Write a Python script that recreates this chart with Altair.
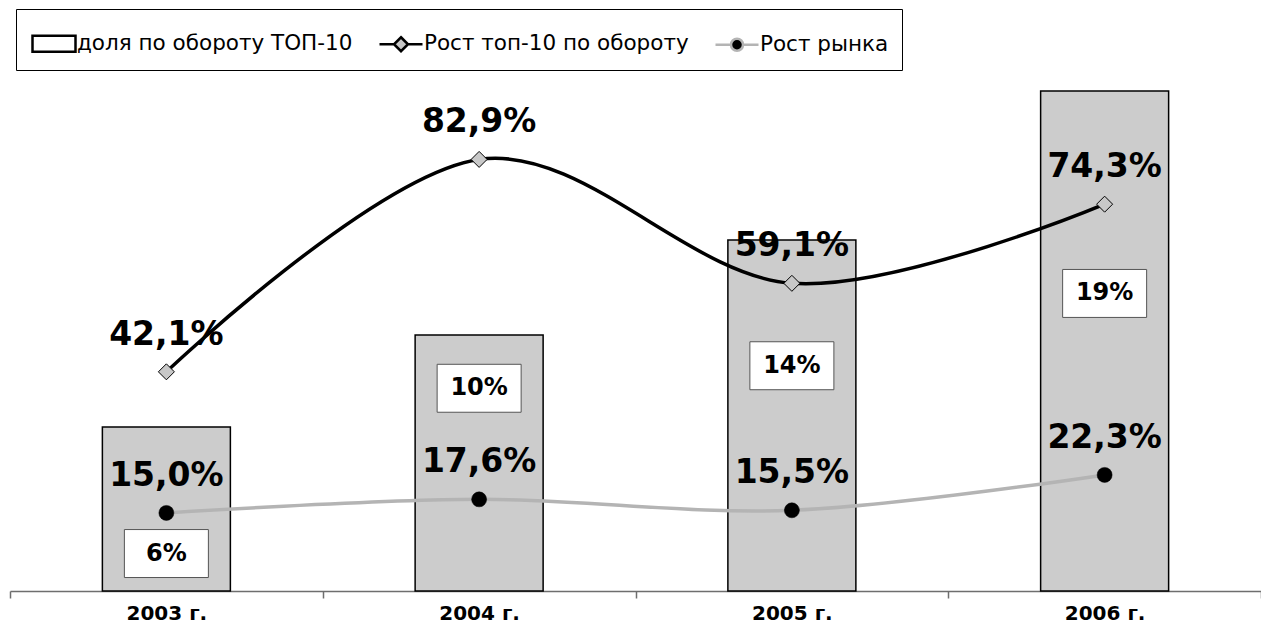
import altair as alt
import pandas as pd

years = ["2003 г.", "2004 г.", "2005 г.", "2006 г."]
share_top10 = [6.26, 9.77, 13.4, 19.09]          # доля по обороту ТОП-10 (bar height, %)
share_labels = ["6%", "10%", "14%", "19%"]
share_label_pos = [1.43, 7.74, 8.6, 11.36]       # label anchor, in share units
growth_top10 = [42.1, 82.9, 59.1, 74.3]          # Рост топ-10 по обороту
growth_market = [15.0, 17.6, 15.5, 22.3]         # Рост рынка
series_names = ["доля по обороту ТОП-10", "Рост топ-10 по обороту", "Рост рынка"]

FONT = "DejaVu Sans"

bars_df = pd.DataFrame({"year": years, "share": share_top10,
                        "label": share_labels, "pos": share_label_pos})
lines_df = pd.DataFrame({
    "year": years * 2,
    "value": growth_top10 + growth_market,
    "series": [series_names[1]] * 4 + [series_names[2]] * 4,
})
legend_df = pd.DataFrame({"series": series_names})

x_enc = alt.X("year:N", sort=years,
              scale=alt.Scale(paddingInner=0, paddingOuter=0),
              axis=alt.Axis(title=None, labelAngle=0, tickBand="extent", grid=False,
                            domainColor="#6e6e6e", tickColor="#6e6e6e",
                            domainWidth=1.5, tickWidth=1.5, tickSize=7,
                            labelFont=FONT, labelFontSize=20, labelFontWeight="bold",
                            labelColor="black", labelPadding=5))

share_scale = alt.Scale(domain=[0, 19.28], nice=False, zero=True)
growth_scale = alt.Scale(domain=[0, 97], nice=False, zero=True)

bars = alt.Chart(bars_df).mark_bar(size=128, fill="#cccccc", stroke="black",
                                   strokeWidth=1.5).encode(
    x=x_enc, y=alt.Y("share:Q", scale=share_scale, axis=None))

boxes = alt.Chart(bars_df).mark_point(
    shape="M-1,-0.571H1V0.571H-1Z", size=7056, filled=True, fill="white",
    stroke="#555555", strokeWidth=1, opacity=1).encode(
    x=x_enc, y=alt.Y("pos:Q", scale=share_scale, axis=None))

box_text = alt.Chart(bars_df).mark_text(
    font=FONT, fontSize=24, fontWeight="bold", color="black", baseline="middle").encode(
    x=x_enc, y=alt.Y("pos:Q", scale=share_scale, axis=None), text="label:N")

share_layer = alt.layer(bars, boxes, box_text)

top_df = lines_df[lines_df.series == series_names[1]]
mkt_df = lines_df[lines_df.series == series_names[2]]

y_g = alt.Y("value:Q", scale=growth_scale, axis=None)

line_top = alt.Chart(top_df).mark_line(
    interpolate="cardinal", color="black", strokeWidth=3.5).encode(x=x_enc, y=y_g)
pts_top = alt.Chart(top_df).mark_point(
    shape="diamond", size=256, filled=True, fill="#c8c8c8", stroke="black",
    strokeWidth=1, opacity=1).encode(x=x_enc, y=y_g)
line_mkt = alt.Chart(mkt_df).mark_line(
    interpolate="cardinal", color="#b4b4b4", strokeWidth=3.5).encode(x=x_enc, y=y_g)
pts_mkt = alt.Chart(mkt_df).mark_point(
    shape="circle", size=225, filled=True, fill="black", stroke="black",
    strokeWidth=0.5, opacity=1).encode(x=x_enc, y=y_g)

val_text = alt.Chart(lines_df).transform_calculate(
    lbl="replace(format(datum.value, '.1f'), '.', ',') + '%'"
).mark_text(font=FONT, fontSize=33, fontWeight="bold", color="black",
            baseline="alphabetic", dy=-27).encode(x=x_enc, y=y_g, text="lbl:N")

leg = alt.Legend(title=None, orient="none", legendX=6, legendY=-77,
                 direction="horizontal", columns=3, labelFont=FONT,
                 labelFontSize=21.5, labelColor="black", labelOffset=5,
                 symbolSize=1600, symbolStrokeWidth=2.5, strokeColor="black",
                 fillColor="white", padding=13, columnPadding=21, labelLimit=400)

legend_layer = alt.Chart(legend_df).transform_filter("false").mark_point(
    filled=True, opacity=1, strokeWidth=2.5).encode(
    shape=alt.Shape("series:N", legend=leg, scale=alt.Scale(
        domain=series_names,
        range=["M-0.9,-0.4H1.25V0.4H-0.9Z",
               "M-0.9,0H-0.175M0.525,0H1.25M0.175,-0.35L0.525,0L0.175,0.35L-0.175,0Z",
               "M-0.9,0H-0.125M0.475,0H1.25M-0.125,0A0.3,0.3 0 1,0 0.475,0A0.3,0.3 0 1,0 -0.125,0Z"])),
    fill=alt.Fill("series:N", legend=leg, scale=alt.Scale(
        domain=series_names, range=["white", "#c8c8c8", "black"])),
    stroke=alt.Stroke("series:N", legend=leg, scale=alt.Scale(
        domain=series_names, range=["black", "black", "#b4b4b4"])),
)

growth_layer = alt.layer(line_mkt, line_top, pts_mkt, pts_top, val_text, legend_layer)

chart = alt.layer(share_layer, growth_layer).resolve_scale(
    y="independent"
).properties(
    width=1251, height=505,
    autosize=alt.AutoSizeParams(type="none"),
    padding={"left": 2, "top": 78, "right": 0, "bottom": 32},
).configure_view(stroke="transparent", strokeWidth=0).configure_axisY(
    grid=False, domain=False, ticks=False, labels=False).configure(
    font=FONT, background="white",
    style={"cell": {"stroke": "transparent", "strokeWidth": 0}})

chart.save("out.html", embed_options={"renderer": "svg", "actions": False})
